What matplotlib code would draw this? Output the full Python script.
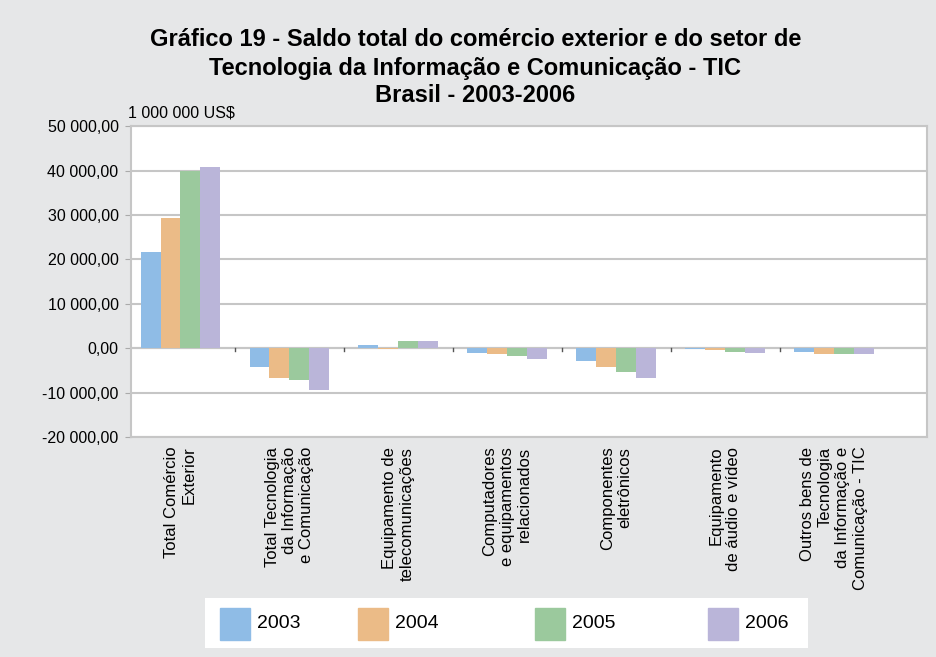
import numpy as np
import matplotlib
matplotlib.use('Agg')
import matplotlib.pyplot as plt
from matplotlib.patches import Rectangle
from matplotlib.ticker import FuncFormatter

plt.rcParams['font.family'] = ['Liberation Sans', 'DejaVu Sans']

categories = [
    'Total Comércio\nExterior',
    'Total Tecnologia\nda Informação\ne Comunicação',
    'Equipamento de\ntelecomunicações',
    'Computadores\ne equipamentos\nrelacionados',
    'Componentes\neletrônicos',
    'Equipamento\nde áudio e vídeo',
    'Outros bens de\nTecnologia\nda Informação e\nComunicação - TIC',
]
years = ['2003', '2004', '2005', '2006']
v2003 = [21600, -4200, 600, -1000, -2900, -100, -800]
v2004 = [29300, -6700, -300, -1300, -4300, -400, -1300]
v2005 = [40000, -7100, 1600, -1700, -5400, -800, -1300]
v2006 = [40800, -9400, 1600, -2400, -6700, -1100, -1300]
series = [v2003, v2004, v2005, v2006]
colors = ['#8fbce6', '#ebbb87', '#9bc99d', '#bab5d9']
yticks = [-20000, -10000, 0, 10000, 20000, 30000, 40000, 50000]
title_lines = ['Gráfico 19 - Saldo total do comércio exterior e do setor de',
               'Tecnologia da Informação e Comunicação - TIC',
               'Brasil - 2003-2006']

bg = '#e6e7e8'
fig = plt.figure(figsize=(9.36, 6.57), dpi=100, facecolor=bg)
ax = fig.add_axes([0.140, 0.335, 0.850, 0.473])
ax.set_facecolor('white')

x = np.arange(len(categories))
width = 0.183
for i, (vals, c) in enumerate(zip(series, colors)):
    ax.bar(x + (i - 1.5) * width, vals, width, color=c, zorder=3)

ax.set_xlim(-0.454, len(categories) - 0.15)
ax.set_ylim(-20000, 50000)
ax.set_yticks(yticks)
fmt = lambda v, p: '{:,.2f}'.format(v).replace(',', ' ').replace('.', ',')
ax.yaxis.set_major_formatter(FuncFormatter(fmt))
ax.grid(axis='y', color='#c6c6c6', lw=1.5, zorder=1)
ax.axhline(0, color='#c6c6c6', lw=1.5, zorder=2)
# small ticks at category boundaries on the zero line
for b in x[1:] - 0.5:
    ax.plot([b, b], [0, -700], color='#555555', lw=1, zorder=2)

ax.set_xticks(x)
ax.set_xticklabels(categories, rotation=90, ha='center', va='top',
                   multialignment='right', fontsize=12, linespacing=1.2)
ax.tick_params(axis='x', length=0, pad=7)
ax.tick_params(axis='y', labelsize=11.5, length=4, color='#aaaaaa', pad=5)
for s in ax.spines.values():
    s.set_color('#c6c6c6')
    s.set_linewidth(1.5)

# title, one text per line
for k, line in enumerate(title_lines):
    fig.text(0.508, 1 - (40 + 28 * k) / 657, line, ha='center', va='center',
             fontsize=17, fontweight='bold')
fig.text(0.137, 0.828, '1 000 000 US$', ha='left', va='center', fontsize=11.5)

# legend box drawn by hand to follow the uneven spacing of the original
lax = fig.add_axes([205 / 936, 9 / 657, 603 / 936, 50 / 657])
lax.set_xlim(0, 603)
lax.set_ylim(0, 50)
lax.set_facecolor('white')
lax.set_xticks([])
lax.set_yticks([])
for s in lax.spines.values():
    s.set_visible(False)
patch_x = [15, 153, 330, 503]
for px, c, yr in zip(patch_x, colors, years):
    lax.add_patch(Rectangle((px, 8), 30, 32, color=c))
    lax.text(px + 37, 24, yr, ha='left', va='center', fontsize=14,
             family=['Liberation Sans Narrow', 'Liberation Sans'])

fig.savefig('out.png', dpi=100, facecolor=bg)
